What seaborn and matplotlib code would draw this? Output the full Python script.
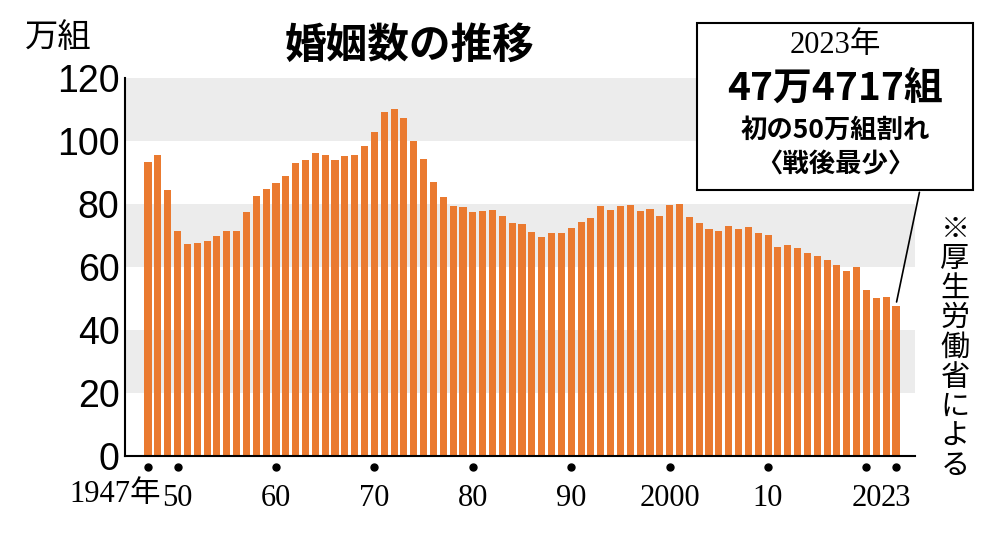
import matplotlib
matplotlib.use("Agg")
import matplotlib.pyplot as plt
import seaborn as sns
import pandas as pd

# Marriages in Japan, 10k couples
years = list(range(1947, 2024))
marriages = [93.4, 95.4, 84.3, 71.5, 67.2, 67.7, 68.3, 69.8, 71.5, 71.5,
             77.3, 82.6, 84.7, 86.6, 89.0, 92.9, 93.8, 96.3, 95.5, 94.0,
             95.3, 95.6, 98.4, 102.9, 109.1, 110.0, 107.2, 100.0, 94.2, 87.1,
             82.1, 79.3, 78.9, 77.5, 77.7, 78.1, 76.3, 74.0, 73.6, 71.0,
             69.6, 70.8, 70.8, 72.2, 74.2, 75.4, 79.2, 78.2, 79.2, 79.5,
             77.6, 78.5, 76.2, 79.8, 80.0, 75.7, 74.0, 72.0, 71.4, 73.1,
             72.0, 72.6, 70.8, 70.0, 66.2, 66.9, 66.1, 64.4, 63.5, 62.1,
             60.7, 58.6, 59.9, 52.6, 50.1, 50.5, 47.5]
tick_years = [1947, 1950, 1960, 1970, 1980, 1990, 2000, 2010, 2020, 2023]
tick_labels = ["", "50", "60", "70", "80", "90", "2000", "10", "20", "23"]

df = pd.DataFrame({"year": years, "n": marriages})

jp = "Noto Sans CJK JP"
serif = "Liberation Serif"

fig = plt.figure(figsize=(10, 5.37), dpi=100)
ax = fig.add_axes([0.125, 0.151, 0.79, 0.704])

for lo in (20, 60, 100):
    ax.axhspan(lo, lo + 20, color="#ececec", zorder=0, lw=0)

sns.barplot(data=df, x="year", y="n", native_scale=True, color="#ea7a30",
            width=0.72, saturation=1, ax=ax, zorder=2)
ax.plot(tick_years, [-3.5] * len(tick_years), "o", color="black", ms=5,
        clip_on=False)

ax.set_xlim(1944.66, 2024.93)
ax.set_ylim(0, 120)
ax.set_xlabel("")
ax.set_ylabel("")
for s in ("top", "right"):
    ax.spines[s].set_visible(False)
ax.spines["left"].set_linewidth(1.5)
ax.spines["bottom"].set_linewidth(1.5)
ax.set_yticks(range(0, 121, 20))
ax.tick_params(axis="y", labelsize=27, length=0, pad=4)
for t in ax.get_yticklabels():
    t.set_fontfamily("Liberation Sans")
ax.set_xticks(tick_years)
ax.set_xticklabels(tick_labels, fontfamily=serif, fontsize=22)
ax.tick_params(axis="x", length=0, pad=20)
ax.text(1948.3, -7.5, "1947年", fontfamily=[serif, jp], fontsize=22,
        ha="right", va="top")

fig.text(0.025, 0.93, "万組", fontfamily=jp, fontsize=24, va="center")
fig.text(0.41, 0.915, "婚姻数の推移", fontfamily=jp, fontsize=30,
         fontweight="bold", ha="center", va="center")

# annotation box
fig.patches.append(plt.Rectangle((0.697, 0.647), 0.276, 0.31,
                                 transform=fig.transFigure, fill=True,
                                 fc="white", ec="black", lw=1.5))
fig.text(0.835, 0.915, "2023年", fontfamily=[serif, jp], fontsize=22,
         ha="center", va="center")
fig.text(0.835, 0.835, "47万4717組", fontfamily=jp, fontsize=28,
         fontweight="bold", ha="center", va="center")
fig.text(0.835, 0.757, "初の50万組割れ", fontfamily=jp, fontsize=19,
         fontweight="bold", ha="center", va="center")
fig.text(0.835, 0.692, "〈戦後最少〉", fontfamily=jp, fontsize=19,
         fontweight="bold", ha="center", va="center")
ax.annotate("", xy=(2023, 48), xycoords="data",
            xytext=(0.92, 0.647), textcoords="figure fraction",
            arrowprops=dict(arrowstyle="-", color="black", lw=1.2))

fig.text(0.955, 0.60, "※\n厚\n生\n労\n働\n省\nに\nよ\nる", fontfamily=jp,
         fontsize=21, ha="center", va="top", linespacing=0.98)

fig.savefig("out.png", dpi=100)
